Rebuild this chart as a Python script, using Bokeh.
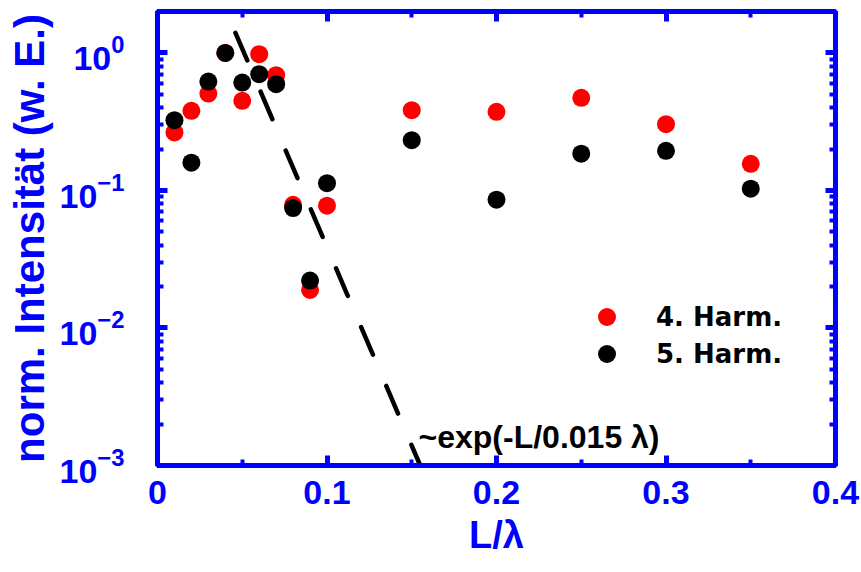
from bokeh.plotting import figure
from bokeh.models import (Range1d, FixedTicker, LinearAxis, LogAxis, Legend,
                          LegendItem, CustomJSTickFormatter)
from bokeh.core.properties import value
from bokeh.embed import file_html
from bokeh.resources import INLINE

# ---------------- data ----------------
L_h4 = [0.01, 0.02, 0.03, 0.04, 0.05, 0.06, 0.07, 0.08, 0.09, 0.10, 0.15, 0.20, 0.25, 0.30, 0.35]
I_h4 = [0.264, 0.379, 0.506, 1.0, 0.448, 0.978, 0.689, 0.0787, 0.0189, 0.0774, 0.383, 0.373, 0.471, 0.303, 0.156]

L_h5 = [0.01, 0.02, 0.03, 0.04, 0.05, 0.06, 0.07, 0.08, 0.09, 0.10, 0.15, 0.20, 0.25, 0.30, 0.35]
I_h5 = [0.324, 0.159, 0.619, 1.0, 0.609, 0.700, 0.592, 0.0745, 0.0221, 0.113, 0.232, 0.0857, 0.185, 0.194, 0.103]

fit_L = [0.046, 0.155]
fit_I = [1.40, 0.001]
fit_label = "~exp(-L/0.015 λ)"
fit_label_L = [0.154]
fit_label_I = [0.0016]

x_major = [0, 0.1, 0.2, 0.3, 0.4]
x_minor = [0.05, 0.15, 0.25, 0.35]
y_major = [1e-3, 1e-2, 1e-1, 1.0]
y_minor = [m * 10.0 ** e for e in (-3, -2, -1, 0) for m in range(2, 10) if m * 10.0 ** e < 2]

series_labels = ["4. Harm.", "5. Harm."]
x_label = "L/λ"
y_label = "norm. Intensität (w. E.)"

BLUE = "#0000ff"
FONT = "Liberation Sans"

# ---------------- figure ----------------
p = figure(width=861, height=572, x_range=Range1d(0, 0.4), y_range=Range1d(1e-3, 2),
           y_axis_type="log", output_backend="svg", toolbar_location=None,
           min_border_left=157, min_border_right=26, min_border_top=11, min_border_bottom=107,
           title_location=None)
p.xgrid.visible = False
p.ygrid.visible = False
p.outline_line_color = BLUE
p.outline_line_width = 5
p.background_fill_color = "white"
p.border_fill_color = "white"

def style_axis(ax, ticks, minor):
    ax.ticker = FixedTicker(ticks=ticks, minor_ticks=minor)
    ax.axis_line_color = BLUE
    ax.axis_line_width = 5
    ax.major_tick_line_color = BLUE
    ax.minor_tick_line_color = BLUE
    ax.major_tick_line_width = 5
    ax.minor_tick_line_width = 4
    ax.major_tick_in = 10
    ax.major_tick_out = 0
    ax.minor_tick_in = 6
    ax.minor_tick_out = 0
    ax.major_label_text_color = BLUE
    ax.major_label_text_font = FONT
    ax.major_label_text_font_style = "bold"

xa = p.xaxis[0]
style_axis(xa, x_major, x_minor)
xa.major_label_overrides = {0: "0"}
xa.major_label_text_font_size = "34px"
xa.major_label_standoff = 15
xa.axis_label = x_label
xa.axis_label_text_font = FONT
xa.axis_label_text_font_style = "bold"
xa.axis_label_text_font_size = "38px"
xa.axis_label_text_color = BLUE
xa.axis_label_standoff = 7

ya = p.yaxis[0]
style_axis(ya, y_major, y_minor)
ya.major_label_text_font_size = "34px"
ya.major_label_standoff = 33
ya.axis_label = y_label
ya.axis_label_text_font = FONT
ya.axis_label_text_font_style = "bold"
ya.axis_label_text_font_size = "42px"
ya.axis_label_text_color = BLUE
ya.axis_label_standoff = 4

blank = CustomJSTickFormatter(code="return ''")
top = LinearAxis(formatter=blank)
style_axis(top, x_major, x_minor)
top.major_label_text_font_size = "1px"
top.major_label_standoff = 0
p.add_layout(top, "above")
right = LogAxis(formatter=blank)
style_axis(right, y_major, y_minor)
right.major_label_text_font_size = "1px"
right.major_label_standoff = 0
p.add_layout(right, "right")

# ---------------- glyphs ----------------
p.line(fit_L, fit_I, line_color="black", line_width=4.5, line_dash="30 34", line_cap="round")
r4 = p.scatter(L_h4, I_h4, size=18, fill_color="#ff0000", line_color=None)
r5 = p.scatter(L_h5, I_h5, size=18, fill_color="black", line_color=None)

p.text(x=fit_label_L, y=fit_label_I, text=[fit_label], text_font=value(FONT),
       text_font_style="bold", text_font_size="32px", text_color="black",
       text_align="left", text_baseline="alphabetic")

def make_legend(label, rend, loc):
    lg = Legend(items=[LegendItem(label=label, renderers=[rend])], location=loc,
                glyph_width=45, glyph_height=45, label_height=45, label_standoff=27,
                padding=0, margin=0, border_line_color=None, background_fill_alpha=0,
                label_text_font="DejaVu Sans", label_text_font_style="bold",
                label_text_font_size="26px", label_text_color="black")
    p.add_layout(lg)
    return lg

make_legend(series_labels[0], r4, (427, 126))
make_legend(series_labels[1], r5, (427, 89))

open("out.html", "w").write(file_html(p, INLINE))
